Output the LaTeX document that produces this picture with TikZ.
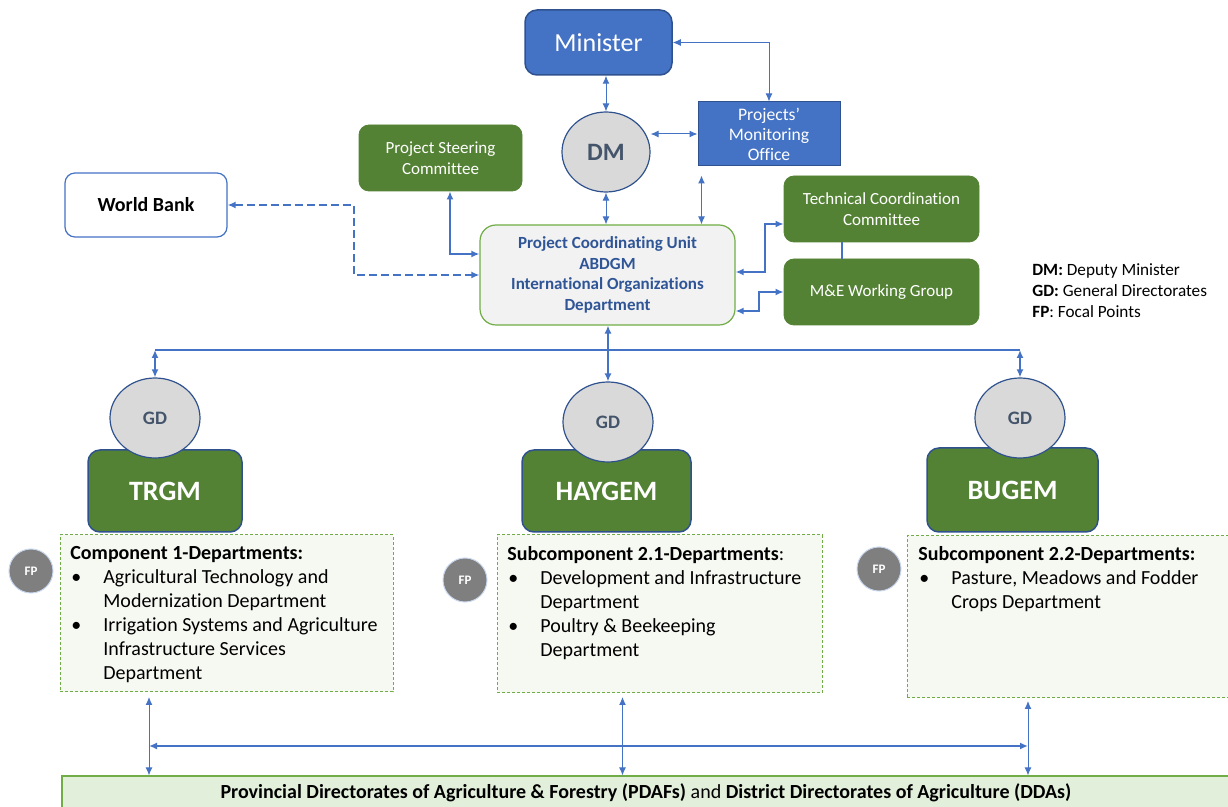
\documentclass[tikz,border=0pt]{standalone}
\usepackage{fontspec}
\setmainfont{Carlito}[Ligatures={TeX,NoCommon}]
\usepackage{xcolor}
\usepackage{tikz}
\usetikzlibrary{arrows.meta,shapes,positioning}

\definecolor{minblue}{HTML}{4472C4}
\definecolor{darkblue}{HTML}{2F528F}
\definecolor{leafgreen}{HTML}{548235}
\definecolor{lightgreen}{HTML}{70AD47}
\definecolor{circlegray}{HTML}{D9D9D9}
\definecolor{slate}{HTML}{44546A}
\definecolor{pcutext}{HTML}{2F5597}
\definecolor{fpgray}{HTML}{7F7F7F}
\definecolor{deptfill}{HTML}{F6F8F2}
\definecolor{barfill}{HTML}{E2EFDA}
\definecolor{pcufill}{HTML}{F2F2F2}

\newcommand{\fsz}[2]{\fontsize{#1}{#2}\selectfont}
\newcommand{\bitem}[1]{\hspace*{0.5pt}\makebox[16pt][l]{\textbullet}#1}
\newcommand{\bcont}[1]{\hspace*{16.5pt}#1}

\tikzset{
  link/.style={draw=minblue, line width=0.5pt, <->},
  thicklink/.style={draw=minblue, line width=1pt, <->},
  dashlink/.style={draw=minblue, line width=1pt, dash pattern=on 4pt off 2pt, <->},
  bluebox/.style={draw=darkblue, fill=minblue, text=white, align=center},
  greenbox/.style={draw=leafgreen, fill=leafgreen, text=white, align=center,
    rounded corners=5pt, minimum width=97.5pt, minimum height=33pt, font=\fsz{8.5}{10.5}},
  govbox/.style={draw=darkblue, line width=0.75pt, fill=leafgreen, text=white,
    rounded corners=6pt, minimum height=41pt, font=\fsz{14}{16}\bfseries},
  gdnode/.style={ellipse, draw=darkblue, line width=0.6pt, fill=circlegray, text=slate,
    minimum width=45pt, minimum height=40pt, inner sep=0pt, font=\fsz{9.5}{11}\bfseries},
  fpnode/.style={circle, draw=minblue!30, line width=0.5pt, fill=fpgray, text=white,
    minimum size=22pt, inner sep=0pt, font=\fsz{6.5}{7}\bfseries},
  deptbox/.style={draw=lightgreen, dash pattern=on 1.5pt off 1pt, line width=0.5pt,
    fill=deptfill, minimum width=162.5pt},
  depttext/.style={anchor=north west, inner sep=0pt, align=left, font=\fsz{10}{12}},
}

\begin{document}
\begin{tikzpicture}[x=0.5pt,y=-0.5pt,>={Latex[length=4pt,width=3.5pt]}]
  \useasboundingbox (0,0) rectangle (1228,807);
  %
  \node[bluebox, rounded corners=6pt, line width=0.75pt, minimum width=73.5pt,
    minimum height=32.5pt, font=\fsz{13}{15}] (minister) at (598.5,42.5) {Minister};
  \node[gdnode, minimum width=44pt, minimum height=40pt, font=\fsz{12.5}{14}\bfseries] (dm) at (606,152) {DM};
  \node[bluebox, line width=0.5pt, inner sep=1pt, minimum width=71pt, minimum height=32pt,
    font=\fsz{8.8}{10}] (pmo) at (769,134) {Projects'\\Monitoring\\Office};
  \node[greenbox, minimum width=81.5pt] (psc) at (440.5,158) {Project Steering\\Committee};
  \node[draw=minblue, line width=0.6pt, rounded corners=5pt, fill=white, minimum width=81pt,
    minimum height=32pt, font=\fsz{10}{12}\bfseries] (wb) at (146,205) {World Bank};
  \node[draw=lightgreen, line width=0.6pt, fill=pcufill, rounded corners=8pt, minimum width=127.5pt,
    minimum height=50pt, align=center, text=pcutext, font=\fsz{8.5}{10.3}\bfseries] (pcu) at (607.5,275)
    {Project Coordinating Unit\\ABDGM\\International Organizations\\Department};
  \node[greenbox] (tcc) at (881.5,209) {Technical Coordination\\Committee};
  \node[greenbox] (me) at (881.5,292) {M\&E Working Group};
  \node[anchor=north west, inner sep=0pt, align=left, font=\fsz{8.6}{10.5}] (legend) at (1032,263)
    {\textbf{DM:} Deputy Minister\\\textbf{GD:} General Directorates\\\textbf{FP}: Focal Points};
  %
  \draw[link] (minister.south -| dm.north) -- (dm.north);
  \draw[link] (minister.east) -| (pmo.north);
  \draw[link] (pmo.west) -- (pmo.west -| dm.east);
  \draw[link] (dm.south) -- (dm.south |- pcu.north);
  \draw[link] ([xshift=2pt,yshift=-4.5pt]pmo.south west) -- ([xshift=2pt]pmo.south west |- pcu.north);
  \draw[thicklink] ([xshift=4.75pt]psc.south) |- ([yshift=10.5pt]pcu.west);
  \draw[dashlink] (wb.east) -- ++(63pt,0) |- (pcu.west);
  \draw[thicklink] ([yshift=1.5pt]pcu.east) -- ++(14.5pt,0) |- ([yshift=-7.5pt]tcc.west);
  \draw[thicklink] ([yshift=-18pt]pcu.east) -- ++(11.5pt,0) |- (me.west);
  \draw[draw=minblue, line width=1pt] ([xshift=-19.75pt]tcc.south) -- ([xshift=-19.75pt]me.north);
  %
  \node[govbox, minimum width=77pt] (trgm) at (165,491) {TRGM};
  \node[govbox, minimum width=84.5pt] (haygem) at (606.5,491) {HAYGEM};
  \node[govbox, minimum width=85.5pt, minimum height=42pt] (bugem) at (1012.5,490) {BUGEM};
  \node[gdnode] (gda) at (155,418) {GD};
  \node[gdnode] (gdb) at (608,422) {GD};
  \node[gdnode] (gdc) at (1020,418) {GD};
  %
  \coordinate (hub) at (0,350);
  \draw[draw=minblue, line width=1pt] (gda.north |- hub) -- (gdc.north |- hub);
  \draw[thicklink] (gda.north |- hub) -- (gda.north);
  \draw[thicklink] (gdc.north |- hub) -- (gdc.north);
  \draw[link, line width=0.7pt] (gdb.north |- pcu.south) -- (gdb.north);
  %
  \node[deptbox, minimum width=166.5pt, minimum height=78.5pt] (depta) at (226.5,613.5) {};
  \node[deptbox, minimum height=79pt] (deptb) at (659.5,614) {};
  \node[deptbox, minimum height=81pt] (deptc) at (1069.5,617) {};
  \node[depttext] (listA) at (70,546) {\textbf{Component 1-Departments:}\\
    \bitem{Agricultural Technology and}\\ \bcont{Modernization Department}\\
    \bitem{Irrigation Systems and Agriculture}\\ \bcont{Infrastructure Services}\\ \bcont{Department}};
  \node[depttext] (listB) at (507,546) {\textbf{Subcomponent 2.1-Departments}:\\
    \bitem{Development and Infrastructure}\\ \bcont{Department}\\
    \bitem{Poultry \& Beekeeping}\\ \bcont{Department}};
  \node[depttext] (listC) at (918,546) {\textbf{Subcomponent 2.2-Departments:}\\
    \bitem{Pasture, Meadows and Fodder}\\ \bcont{Crops Department}};
  \node[fpnode] (fpa) at (31,571) {FP};
  \node[fpnode] (fpb) at (465,580) {FP};
  \node[fpnode] (fpc) at (879,569) {FP};
  %
  \node[draw=lightgreen, fill=barfill, line width=0.6pt, minimum width=584pt, minimum height=17pt,
    font=\fsz{10}{12}] (bar) at (646,793)
    {\textbf{Provincial Directorates of Agriculture \& Forestry (PDAFs)} and \textbf{District Directorates of Agriculture (DDAs)}};
  \coordinate (dropa) at (149,697);
  \coordinate (dropb) at (622.5,697);
  \coordinate (dropc) at (1028,701);
  \coordinate (bus) at (0,746);
  \draw[link] (dropa) -- (dropa |- bar.north);
  \draw[link] (dropb) -- (dropb |- bar.north);
  \draw[link] (dropc) -- (dropc |- bar.north);
  \draw[thicklink] (dropa |- bus) -- (dropc |- bus);
\end{tikzpicture}
\end{document}
